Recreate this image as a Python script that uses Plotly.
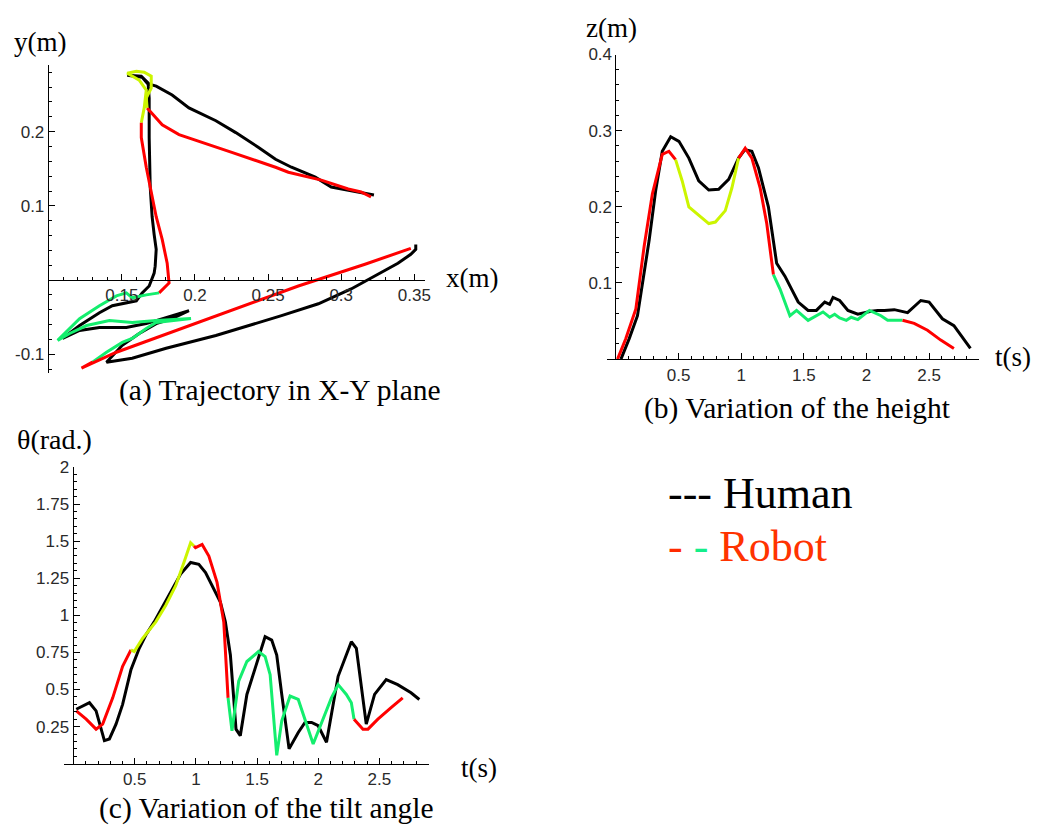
import plotly.graph_objects as go

# ---------------- Panel (a): trajectory in X-Y plane ----------------
human_xy_x = [0.3224, 0.3116, 0.2932, 0.2823, 0.2660, 0.2551, 0.2435, 0.2279, 0.2143, 0.1959, 0.1844, 0.1735, 0.1687,
              0.1633, 0.1537, 0.1639, 0.1680, 0.1687, 0.1687, 0.1694, 0.1707, 0.1721, 0.1735, 0.1728, 0.1721, 0.1687,
              0.1639, 0.1599, 0.1537, 0.1435, 0.1347, 0.1211, 0.1095,
              0.1211, 0.1347, 0.1531, 0.1667, 0.1803, 0.1959,
              0.1844, 0.1735, 0.1619, 0.1503, 0.1395,
              0.1571, 0.1803, 0.2143, 0.2592, 0.2844, 0.3068, 0.3231, 0.3388, 0.3476, 0.3510, 0.3510]
human_xy_y = [0.1147, 0.1187, 0.1253, 0.1387, 0.1520, 0.1627, 0.1787, 0.1987, 0.2147, 0.2320, 0.2493, 0.2613, 0.2640,
              0.2747, 0.2760, 0.2733, 0.2640, 0.2453, 0.1920, 0.1253, 0.0853, 0.0613, 0.0413, 0.0187, 0.0093, -0.0080,
              -0.0173, -0.0280, -0.0307, -0.0347, -0.0440, -0.0613, -0.0787,
              -0.0680, -0.0640, -0.0640, -0.0587, -0.0507, -0.0413,
              -0.0520, -0.0587, -0.0720, -0.0880, -0.1107,
              -0.1053, -0.0920, -0.0747, -0.0480, -0.0320, -0.0120, 0.0053, 0.0227, 0.0347, 0.0413, 0.0480]

robot_xy_x = [0.3204, 0.3136, 0.3048, 0.2864, 0.2639, 0.2551, 0.2252, 0.2007, 0.1891, 0.1776, 0.1673,
              0.1667, 0.1701, 0.1701, 0.1653, 0.1599, 0.1537, 0.1619, 0.1667, 0.1653, 0.1633,
              0.1633, 0.1667, 0.1701, 0.1735, 0.1776, 0.1810, 0.1823, 0.1755,
              0.1667, 0.1571, 0.1531, 0.1463, 0.1347, 0.1211, 0.1061, 0.1143, 0.1259, 0.1415, 0.1571, 0.1735,
              0.1973, 0.1735, 0.1667, 0.1571, 0.1503, 0.1395, 0.1299,
              0.1224, 0.1463, 0.2027, 0.2707, 0.3163, 0.3476]
robot_xy_y = [0.1120, 0.1187, 0.1227, 0.1347, 0.1453, 0.1520, 0.1720, 0.1880, 0.1960, 0.2093, 0.2320,
              0.2453, 0.2587, 0.2747, 0.2800, 0.2813, 0.2787, 0.2693, 0.2560, 0.2320, 0.2120,
              0.1920, 0.1520, 0.1160, 0.0853, 0.0547, 0.0227, -0.0040, -0.0173,
              -0.0200, -0.0240, -0.0173, -0.0213, -0.0347, -0.0520, -0.0813, -0.0720, -0.0613, -0.0547, -0.0573, -0.0547,
              -0.0520, -0.0573, -0.0653, -0.0787, -0.0840, -0.0973, -0.1107,
              -0.1187, -0.0973, -0.0573, -0.0080, 0.0213, 0.0427]
robot_xy_phase = ["r"] * 11 + ["y"] * 10 + ["r"] * 8 + ["g"] * 19 + ["r"] * 6

# ---------------- Panel (b): height ----------------
human_t_z = [0.04, 0.106, 0.172, 0.225, 0.265, 0.317, 0.37, 0.437, 0.503, 0.582, 0.661, 0.741, 0.82, 0.9, 0.979,
             1.03, 1.085, 1.138, 1.217, 1.283, 1.349, 1.402, 1.455, 1.534, 1.6, 1.667, 1.706, 1.733, 1.786, 1.852,
             1.931, 2.037, 2.09, 2.143, 2.222, 2.328, 2.434, 2.5, 2.606, 2.698, 2.83]
human_z = [0, 0.027, 0.057, 0.113, 0.156, 0.221, 0.273, 0.292, 0.286, 0.264, 0.234, 0.222, 0.223, 0.236, 0.264,
           0.275, 0.273, 0.251, 0.2, 0.126, 0.109, 0.092, 0.075, 0.064, 0.064, 0.075, 0.072, 0.081, 0.077, 0.064,
           0.059, 0.063, 0.064, 0.064, 0.065, 0.061, 0.077, 0.075, 0.053, 0.044, 0.014]

robot_t_z = [0.013, 0.079, 0.159, 0.225, 0.291, 0.37, 0.423, 0.476,
             0.529, 0.582, 0.661, 0.741, 0.794, 0.873, 0.926, 0.979,
             1.032, 1.085, 1.151, 1.204, 1.257,
             1.31, 1.389, 1.442, 1.534, 1.653, 1.706, 1.746, 1.786, 1.839, 1.878, 1.931, 2.024, 2.116, 2.169, 2.288,
             2.381, 2.487, 2.593, 2.698]
robot_z = [0, 0.027, 0.066, 0.148, 0.217, 0.269, 0.273, 0.262,
           0.234, 0.2, 0.189, 0.178, 0.18, 0.195, 0.225, 0.264,
           0.277, 0.264, 0.225, 0.178, 0.111,
           0.092, 0.057, 0.064, 0.051, 0.062, 0.055, 0.059, 0.054, 0.051, 0.055, 0.052, 0.064, 0.057, 0.051, 0.051,
           0.047, 0.038, 0.025, 0.014]
robot_z_phase = ["r"] * 8 + ["y"] * 8 + ["r"] * 5 + ["g"] * 15 + ["r"] * 4

# ---------------- Panel (c): tilt angle ----------------
human_t_th = [0.022, 0.13, 0.184, 0.225, 0.252, 0.293, 0.347, 0.401, 0.469, 0.537, 0.591, 0.659, 0.726, 0.808,
              0.875, 0.957, 1.024, 1.079, 1.133, 1.2, 1.241, 1.282, 1.309, 1.328, 1.363, 1.417, 1.485, 1.566, 1.62,
              1.661, 1.702, 1.762, 1.837, 1.892, 1.946, 2.0, 2.068, 2.108, 2.163, 2.271, 2.312, 2.393, 2.461, 2.556,
              2.65, 2.759, 2.827]
human_th = [0.367, 0.411, 0.356, 0.244, 0.156, 0.167, 0.267, 0.4, 0.633, 0.778, 0.867, 0.956, 1.056, 1.178,
            1.278, 1.356, 1.344, 1.289, 1.2, 1.089, 0.956, 0.733, 0.444, 0.233, 0.189, 0.467, 0.644, 0.856, 0.833,
            0.733, 0.467, 0.1, 0.211, 0.278, 0.278, 0.256, 0.144, 0.333, 0.589, 0.822, 0.778, 0.267, 0.467, 0.567,
            0.533, 0.478, 0.433]

robot_t_th = [0.022, 0.103, 0.184, 0.238, 0.32, 0.401, 0.469,
              0.496, 0.564, 0.672, 0.753, 0.835, 0.902, 0.957, 0.984,
              0.997, 1.051, 1.106, 1.173, 1.228, 1.263,
              1.295, 1.35, 1.417, 1.512, 1.566, 1.607, 1.661, 1.702, 1.77, 1.837, 1.959, 2.108, 2.163, 2.23, 2.271, 2.293,
              2.366, 2.407, 2.488, 2.596, 2.691]
robot_th = [0.356, 0.3, 0.233, 0.267, 0.444, 0.656, 0.767,
            0.756, 0.844, 0.956, 1.067, 1.2, 1.356, 1.489, 1.467,
            1.456, 1.478, 1.4, 1.222, 0.956, 0.444,
            0.222, 0.556, 0.689, 0.756, 0.722, 0.6, 0.056, 0.289, 0.456, 0.433, 0.133, 0.444, 0.533, 0.467, 0.411, 0.3,
            0.233, 0.233, 0.3, 0.378, 0.444]
robot_th_phase = ["r"] * 7 + ["y"] * 8 + ["r"] * 6 + ["g"] * 16 + ["r"] * 5

PHASE_COLORS = {"r": "#ff0000", "y": "#ccf500", "g": "#14ee6e"}
HUMAN_COLOR = "#000000"
W, H = 1043, 829


def px(x):
    return x / W


def py(y):
    return 1 - y / H


fig = go.Figure()


def add_robot(xs, ys, phases, xa, ya):
    start = 0
    n = len(xs)
    while start < n:
        end = start
        while end + 1 < n and phases[end + 1] == phases[start]:
            end += 1
        i0 = start - 1 if start > 0 else start
        fig.add_trace(go.Scatter(x=xs[i0:end + 1], y=ys[i0:end + 1], mode="lines",
                                 line=dict(color=PHASE_COLORS[phases[start]], width=3),
                                 xaxis=xa, yaxis=ya, showlegend=False, hoverinfo="skip"))
        start = end + 1


fig.add_trace(go.Scatter(x=human_xy_x, y=human_xy_y, mode="lines", line=dict(color=HUMAN_COLOR, width=3),
                         xaxis="x", yaxis="y", showlegend=False))
add_robot(robot_xy_x, robot_xy_y, robot_xy_phase, "x", "y")

fig.add_trace(go.Scatter(x=human_t_z, y=human_z, mode="lines", line=dict(color=HUMAN_COLOR, width=3),
                         xaxis="x2", yaxis="y2", showlegend=False))
add_robot(robot_t_z, robot_z, robot_z_phase, "x2", "y2")

fig.add_trace(go.Scatter(x=human_t_th, y=human_th, mode="lines", line=dict(color=HUMAN_COLOR, width=3),
                         xaxis="x3", yaxis="y3", showlegend=False))
add_robot(robot_t_th, robot_th, robot_th_phase, "x3", "y3")

tickfont = dict(family="Liberation Sans, Arial, sans-serif", size=17, color="#2a2a2a")
common = dict(showline=True, linecolor="black", linewidth=1, showgrid=False, zeroline=False,
              ticks="inside", ticklen=6, tickwidth=1, tickcolor="black", tickfont=tickfont,
              tickmode="array")


def minor(dt):
    return dict(ticks="inside", ticklen=3, tickwidth=1, tickcolor="black", tick0=0, dtick=dt, showgrid=False)


serif = "Liberation Serif, Times New Roman, serif"

fig.update_layout(
    width=W, height=H,
    margin=dict(l=0, r=0, t=0, b=0),
    paper_bgcolor="white", plot_bgcolor="white",
    showlegend=False,
    # panel (a)
    xaxis=dict(domain=[px(49), px(427)], range=[0.1, 0.357], anchor="free", position=py(274),
               tickvals=[0.15, 0.2, 0.25, 0.3, 0.35], ticktext=["0.15", "0.2", "0.25", "0.3", "0.35"],
               minor=minor(0.01), **common),
    yaxis=dict(domain=[py(368), py(57)], range=[-0.1253, 0.2893], anchor="x",
               tickvals=[-0.1, 0.1, 0.2], ticktext=["-0.1", "0.1", "0.2"],
               minor=minor(0.02), **common),
    # panel (b)
    xaxis2=dict(domain=[px(611), px(985)], range=[-0.0675, 2.901], anchor="y2",
                tickvals=[0.5, 1, 1.5, 2, 2.5], ticktext=["0.5", "1", "1.5", "2", "2.5"],
                minor=minor(0.1), **common),
    yaxis2=dict(domain=[py(354), py(46)], range=[0, 0.4], anchor="free", position=px(619),
                tickvals=[0.1, 0.2, 0.3, 0.4], ticktext=["0.1", "0.2", "0.3", "0.4"],
                minor=minor(0.02), **common),
    # panel (c)
    xaxis3=dict(domain=[px(64), px(431)], range=[-0.0813, 2.902], anchor="y3",
                tickvals=[0.5, 1, 1.5, 2, 2.5], ticktext=["0.5", "1", "1.5", "2", "2.5"],
                minor=minor(0.1), **common),
    yaxis3=dict(domain=[py(763), py(463)], range=[0, 2], anchor="free", position=px(73),
                tickvals=[0.25, 0.5, 0.75, 1, 1.25, 1.5, 1.75, 2],
                ticktext=["0.25", "0.5", "0.75", "1", "1.25", "1.5", "1.75", "2"],
                minor=minor(0.05), **common),
)


def txt(x, y, s, size, color="black", xanchor="center"):
    fig.add_annotation(x=px(x), y=py(y), xref="paper", yref="paper", text=s, showarrow=False,
                       xanchor=xanchor, yanchor="middle", font=dict(family=serif, size=size, color=color))


txt(40, 33, "y(m)", 27)
txt(475, 272, "x(m)", 27)
txt(282, 386, "(a) Trajectory in X-Y plane", 29.5)
txt(615, 19, "z(m)", 27)
txt(1019, 352, "t(s)", 27)
txt(802, 404, "(b) Variation of the height", 29.5)
txt(55, 435, "θ(rad.)", 28)
txt(482, 767, "t(s)", 27)
txt(268, 808, "(c) Variation of the tilt angle", 29.5)

txt(670, 490, "--- Human", 44, xanchor="left")
txt(670, 543, "<span style='color:#ff2a00'>-</span> <span style='color:#14ee8a'>-</span> "
              "<span style='color:#ff3300'>Robot</span>", 44, xanchor="left")

fig.write_html("out.html")
